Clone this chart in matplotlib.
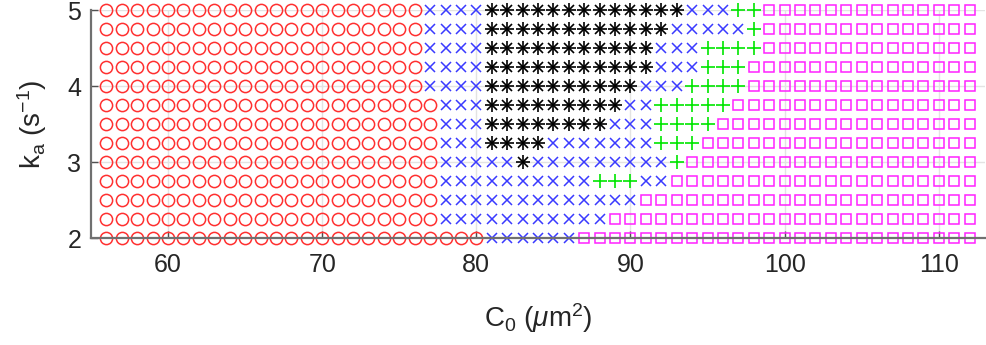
import matplotlib
matplotlib.use("Agg")
import matplotlib.pyplot as plt
import numpy as np

# Data: C0 values (columns) and ka values (rows)
c0_values = list(range(56, 113))          # 56..112
ka_values = [5.0, 4.75, 4.5, 4.25, 4.0, 3.75, 3.5, 3.25, 3.0, 2.75, 2.5, 2.25, 2.0]

# Run-length encoded class of each row (from left to right), same order as ka_values
# classes: 'o' red circle, 'x' blue cross, '*' black asterisk, '+' green plus, 's' magenta square
row_runs = [
    [('o', 21), ('x', 4), ('*', 13), ('x', 3), ('+', 2), ('s', 14)],
    [('o', 21), ('x', 4), ('*', 12), ('x', 5), ('+', 1), ('s', 14)],
    [('o', 21), ('x', 4), ('*', 11), ('x', 3), ('+', 4), ('s', 14)],
    [('o', 21), ('x', 4), ('*', 11), ('x', 3), ('+', 3), ('s', 15)],
    [('o', 21), ('x', 4), ('*', 10), ('x', 3), ('+', 4), ('s', 15)],
    [('o', 22), ('x', 3), ('*', 9), ('x', 2), ('+', 5), ('s', 16)],
    [('o', 22), ('x', 3), ('*', 8), ('x', 3), ('+', 4), ('s', 17)],
    [('o', 22), ('x', 3), ('*', 4), ('x', 7), ('+', 3), ('s', 18)],
    [('o', 22), ('x', 5), ('*', 1), ('x', 9), ('+', 1), ('s', 19)],
    [('o', 22), ('x', 10), ('+', 3), ('x', 2), ('s', 20)],
    [('o', 22), ('x', 13), ('s', 22)],
    [('o', 22), ('x', 11), ('s', 24)],
    [('o', 25), ('x', 6), ('s', 26)],
]

x_ticks = [60, 70, 80, 90, 100, 110]
y_ticks = [2, 3, 4, 5]

plt.rcParams['font.family'] = ['Liberation Sans', 'DejaVu Sans']
plt.rcParams['mathtext.fontset'] = 'custom'
plt.rcParams['mathtext.rm'] = 'Liberation Sans'
plt.rcParams['mathtext.it'] = 'Liberation Sans:italic'

fig = plt.figure(figsize=(9.87, 3.45), dpi=100)
ax = fig.add_axes([0.0922, 0.3101, 0.9058, 0.6609])

# collect points per class
pts = {k: ([], []) for k in 'ox*+s'}
for ka, runs in zip(ka_values, row_runs):
    i = 0
    for cls, n in runs:
        for c in c0_values[i:i + n]:
            pts[cls][0].append(c)
            pts[cls][1].append(ka)
        i += n

common = dict(linestyle='none', clip_on=False, zorder=3)
ax.plot(*pts['o'], marker='o', mfc='none', mec='#ff3030', ms=8.8, mew=1.1, **common)
ax.plot(*pts['x'], marker='x', color='#3a3aff', ms=7.5, mew=1.1, **common)
ax.plot(*pts['*'], marker='+', color='black', ms=9.5, mew=1.2, **common)
ax.plot(*pts['*'], marker='x', color='black', ms=6.8, mew=1.2, **common)
ax.plot(*pts['+'], marker='+', color='#00e600', ms=9.5, mew=1.2, **common)
ax.plot(*pts['s'], marker='s', mfc='none', mec='#ff22ff', ms=6.8, mew=1.1, **common)

ax.set_xlim(55, 113)
ax.set_ylim(2, 5)
ax.set_xticks(x_ticks)
ax.set_yticks(y_ticks)
ax.grid(True, color='#e3e3e3', linewidth=1.0, zorder=0)
ax.set_axisbelow(True)

for s in ['top', 'right']:
    ax.spines[s].set_visible(False)
for s in ['left', 'bottom']:
    ax.spines[s].set_color('#707070')
    ax.spines[s].set_linewidth(1.6)
    ax.spines[s].set_zorder(4)

ax.tick_params(direction='in', length=5, width=1.0, color='#505050',
               labelsize=18, labelcolor='#262626', pad=7)
ax.tick_params(axis='x', pad=11)

ax.set_xlabel(r'C$_0$ ($\mu$m$^2$)', fontsize=20, color='#262626', labelpad=17)
ax.set_ylabel(r'k$_\mathrm{a}$ (s$^{-1}$)', fontsize=20, color='#262626', labelpad=13)

fig.savefig('out.png', dpi=100)
